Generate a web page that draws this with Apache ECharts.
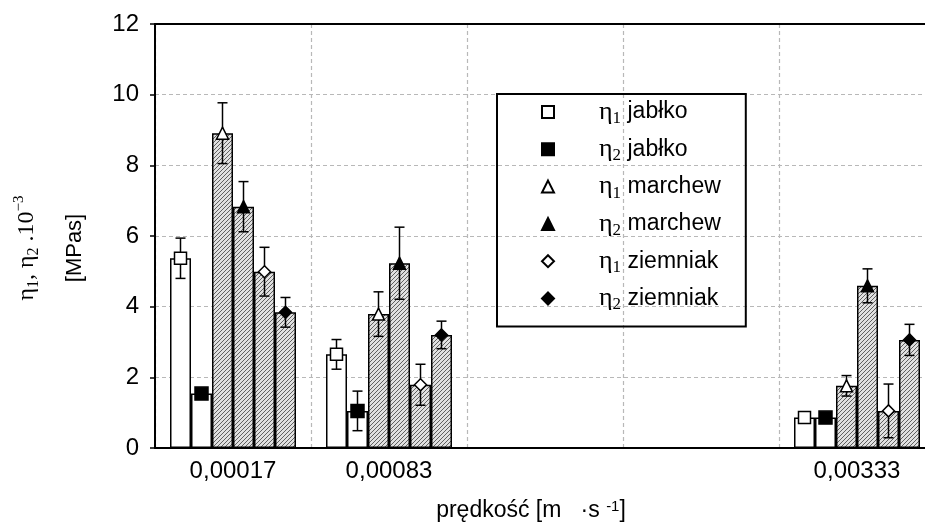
<!DOCTYPE html>
<html>
<head>
    <meta charset="UTF-8">
    <title>echarts</title>
    <style>
        html, body { margin: 0; padding: 0; background: #fff; overflow: hidden; }
        /* the plot runs past the right edge of the picture, as in the source figure */
        #chart { width: 1091px; height: 524px; }
    </style>
    <script type="text/javascript" src="https://cdn.jsdelivr.net/npm/echarts@6/dist/echarts.min.js"></script>
</head>
<body>
<div id="chart"></div>
<script>
    // predkosc categories (slots without data are left empty)
    const categories = ['0,00017', '0,00083', '', '', '0,00333', ''];

    const names = ['η1 jabłko', 'η2 jabłko', 'η1 marchew', 'η2 marchew', 'η1 ziemniak', 'η2 ziemniak'];

    const eta1Apple  = [5.37, 2.65, null, null, 0.86, null];
    const eta2Apple  = [1.54, 1.05, null, null, 0.86, null];
    const eta1Carrot = [8.91, 3.79, null, null, 1.76, null];
    const eta2Carrot = [6.83, 5.23, null, null, 4.59, null];
    const eta1Potato = [4.99, 1.79, null, null, 1.05, null];
    const eta2Potato = [3.84, 3.20, null, null, 3.06, null];

    const err1Apple  = [0.57, 0.42, null, null, 0.08, null];
    const err2Apple  = [0.10, 0.56, null, null, 0.05, null];
    const err1Carrot = [0.86, 0.63, null, null, 0.29, null];
    const err2Carrot = [0.71, 1.02, null, null, 0.48, null];
    const err1Potato = [0.69, 0.58, null, null, 0.76, null];
    const err2Potato = [0.42, 0.39, null, null, 0.44, null];

    const values = [eta1Apple, eta2Apple, eta1Carrot, eta2Carrot, eta1Potato, eta2Potato];
    const errors = [err1Apple, err2Apple, err1Carrot, err2Carrot, err1Potato, err2Potato];
    const symbols = ['rect', 'rect', 'triangle', 'triangle', 'diamond', 'diamond'];

    const SANS = 'Liberation Sans';
    const SERIF = 'Liberation Serif';
    const BAR_W = 21;

    // hatch fill for marchew / ziemniak bars
    function makeHatch() {
        const c = document.createElement('canvas');
        c.width = 4; c.height = 4;
        const ctx = c.getContext('2d');
        ctx.fillStyle = '#e0e0e0';
        ctx.fillRect(0, 0, 4, 4);
        ctx.fillStyle = '#606060';
        for (let i = 0; i < 4; i++) ctx.fillRect(i, 3 - i, 1, 1);
        return c;
    }
    const hatch = {image: makeHatch(), repeat: 'repeat'};

    const chart = echarts.init(document.getElementById('chart'), null, {renderer: 'canvas'});

    const series = [];
    values.forEach((vals, i) => {
        series.push({
            type: 'bar',
            name: 'bar ' + names[i],
            data: vals,
            barWidth: BAR_W,
            barGap: '0%',
            z: 2,
            itemStyle: {
                color: i < 2 ? '#fff' : hatch,
                borderColor: '#000',
                borderWidth: 1.5
            }
        });
    });
    values.forEach((vals, i) => {
        const off = (i - 2.5) * BAR_W;
        series.push({
            type: 'custom',
            name: 'err ' + names[i],
            z: 3,
            data: vals.map((v, k) => v == null ? null : [k, v, errors[i][k]]).filter(d => d),
            encode: {x: 0, y: 1},
            renderItem: function (params, api) {
                const k = api.value(0), v = api.value(1), e = api.value(2);
                const hi = api.coord([k, v + e]);
                const lo = api.coord([k, v - e]);
                const x = hi[0] + off;
                const st = {stroke: '#000', lineWidth: 1.5};
                return {
                    type: 'group',
                    children: [
                        {type: 'line', shape: {x1: x, y1: hi[1], x2: x, y2: lo[1]}, style: st},
                        {type: 'line', shape: {x1: x - 5, y1: hi[1], x2: x + 5, y2: hi[1]}, style: st},
                        {type: 'line', shape: {x1: x - 5, y1: lo[1], x2: x + 5, y2: lo[1]}, style: st}
                    ]
                };
            }
        });
    });
    values.forEach((vals, i) => {
        const hollow = i % 2 === 0;
        series.push({
            type: 'scatter',
            name: names[i],
            data: vals,
            symbol: symbols[i],
            symbolSize: i === 1 ? 13 : 12,
            symbolOffset: [(i - 2.5) * BAR_W, 0],
            z: 4,
            itemStyle: {
                color: hollow ? '#fff' : '#000',
                borderColor: '#000',
                borderWidth: 1.5,
                opacity: 1
            }
        });
    });

    const option = {
        animation: false,
        backgroundColor: '#fff',
        grid: {left: 155, top: 24, bottom: 76, right: 0},
        xAxis: [{
            type: 'category',
            data: categories,
            position: 'bottom',
            boundaryGap: true,
            axisLine: {lineStyle: {color: '#000', width: 2}},
            axisTick: {inside: true, length: 5, lineStyle: {color: '#000', width: 1.5}},
            axisLabel: {color: '#000', fontFamily: SANS, fontSize: 24, margin: 11, interval: 0},
            splitLine: {show: true, lineStyle: {color: '#b8b8b8', type: [4, 3], width: 1.2}}
        }, {
            type: 'category',
            data: categories,
            position: 'top',
            boundaryGap: true,
            axisLine: {lineStyle: {color: '#000', width: 2}},
            axisTick: {inside: true, length: 5, lineStyle: {color: '#000', width: 1.5}},
            axisLabel: {show: false},
            splitLine: {show: false}
        }],
        yAxis: {
            type: 'value',
            min: 0,
            max: 12,
            interval: 2,
            axisLine: {show: true, lineStyle: {color: '#000', width: 2}},
            axisTick: {show: true, length: 5, lineStyle: {color: '#000', width: 1.5}},
            axisLabel: {color: '#000', fontFamily: SANS, fontSize: 24, margin: 16},
            splitLine: {show: true, lineStyle: {color: '#b8b8b8', type: [4, 3], width: 1.2}}
        },
        legend: {
            data: names,
            orient: 'vertical',
            left: 497,
            top: 94,
            padding: [3, 25, 13, 44],
            itemWidth: 12,
            itemHeight: 12,
            itemGap: 7.3,
            borderColor: '#000',
            borderWidth: 2,
            selectedMode: false,
            formatter: function (n) {
                return n.replace(/η(\d) (.*)/, '{g|η}{s|$1} $2');
            },
            textStyle: {
                color: '#000',
                fontFamily: SANS,
                fontSize: 23,
                lineHeight: 30,
                padding: [0, 0, 0, 40],
                rich: {
                    g: {fontFamily: SERIF, fontSize: 26, lineHeight: 30, color: '#000'},
                    s: {fontFamily: SERIF, fontSize: 17, lineHeight: 11, verticalAlign: 'bottom', color: '#000'}
                }
            }
        },
        graphic: [{
            type: 'text',
            x: 27, y: 248,
            rotation: Math.PI / 2,
            style: {
                text: '{g|η}{s|1}{g|, η}{s|2}{g| .10}{p|−3}',
                align: 'center',
                verticalAlign: 'middle',
                fill: '#000',
                rich: {
                    g: {fontFamily: SERIF, fontSize: 24, lineHeight: 30},
                    s: {fontFamily: SERIF, fontSize: 16, lineHeight: 11, verticalAlign: 'bottom'},
                    p: {fontFamily: SERIF, fontSize: 15, lineHeight: 12, verticalAlign: 'top'}
                }
            }
        }, {
            type: 'text',
            x: 75, y: 248,
            rotation: Math.PI / 2,
            style: {
                text: '[MPas]',
                align: 'center',
                verticalAlign: 'middle',
                fill: '#000',
                font: '22px "Liberation Sans"'
            }
        }, {
            type: 'text',
            x: 531, y: 511,
            style: {
                text: 'prędkość [m   ·s {p|-1}]',
                align: 'center',
                verticalAlign: 'middle',
                fill: '#000',
                font: '23px "Liberation Sans"',
                rich: {
                    p: {fontFamily: SANS, fontSize: 15, lineHeight: 12, verticalAlign: 'top'}
                }
            }
        }],
        series: series
    };
    chart.setOption(option);
</script>
</body>
</html>
